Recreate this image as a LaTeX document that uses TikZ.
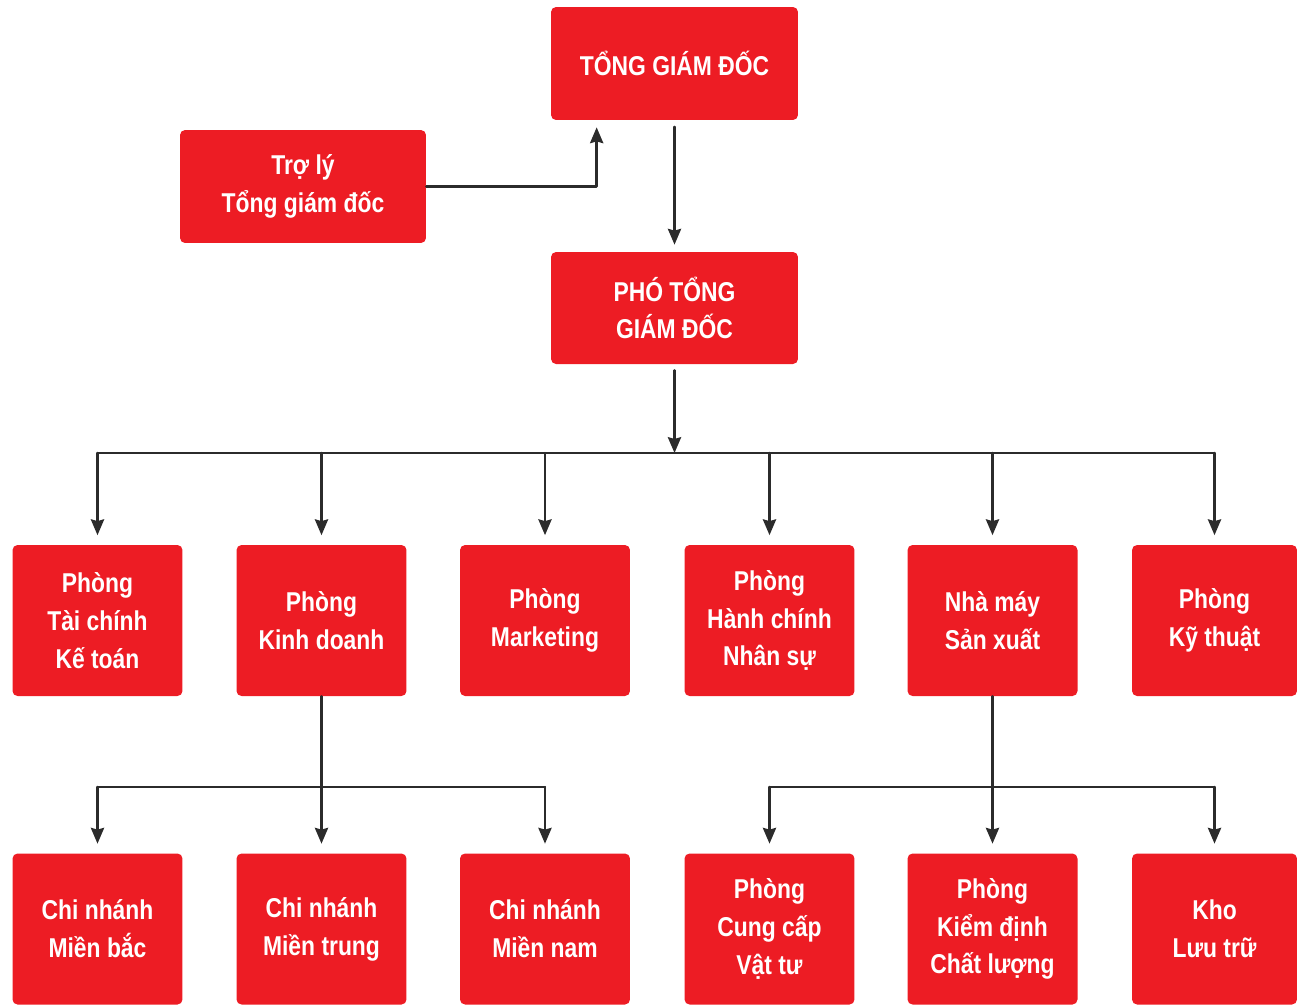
\documentclass[tikz,border=0pt]{standalone}
\usepackage{fontspec}
\newfontfamily\orgfont[FakeStretch=0.84]{Liberation Sans}
\usetikzlibrary{arrows.meta,positioning}
\definecolor{orgred}{HTML}{ED1C24}
\definecolor{linegray}{HTML}{2B2B2B}
\tikzset{
	box/.style={fill=orgred,text=white,rounded corners=0.1cm,align=center,inner sep=0pt,
		font=\orgfont\bfseries\fontsize{15.5}{21.5}\selectfont,
		minimum width=3.4cm,minimum height=3.02cm},
	bigbox/.style={box,minimum width=4.94cm,minimum height=2.26cm},
	link/.style={draw=linegray,line width=1.4pt},
}
\begin{document}
\begin{tikzpicture}[x=0.02cm,y=-0.02cm,line join=round,line cap=round,
	>={Stealth[length=9pt,width=7.5pt,inset=1pt]}]
	\useasboundingbox (0,0) rectangle (1297,1005);
	
	\node[bigbox] (tgd) at (674.5,63.5) {TỔNG GIÁM ĐỐC};
	\node[bigbox,minimum width=4.92cm] (troly) at (303,186.5) {Trợ lý\\Tổng giám đốc};
	\node[bigbox,minimum height=2.24cm] (ptgd) at (674.5,308) {PHÓ TỔNG\\GIÁM ĐỐC};
	
	\node[box] (tckt) at (97.5,620.5) {Phòng\\Tài chính\\Kế toán};
	\node[box] (kd) at (321.5,620.5) {Phòng\\Kinh doanh};
	\node[box] (mkt) at (545,620.5) {Phòng\\Marketing};
	\node[box] (hcns) at (769.5,620.5) {Phòng\\Hành chính\\Nhân sự};
	\node[box] (nm) at (992.5,620.5) {Nhà máy\\Sản xuất};
	\node[box,minimum width=3.3cm] (kt) at (1214.5,620.5) {Phòng\\Kỹ thuật};
	
	\node[box] (cnb) at (97.5,929) {Chi nhánh\\Miền bắc};
	\node[box] (cnt) at (321.5,929) {Chi nhánh\\Miền trung};
	\node[box] (cnn) at (545,929) {Chi nhánh\\Miền nam};
	\node[box] (cc) at (769.5,929) {Phòng\\Cung cấp\\Vật tư};
	\node[box] (kdcl) at (992.5,929) {Phòng\\Kiểm định\\Chất lượng};
	\node[box,minimum width=3.3cm] (kho) at (1214.5,929) {Kho\\Lưu trữ};
	
	\coordinate (bus1) at (674.5,453);
	\coordinate (bus2) at (321.5,787);
	\coordinate (bus3) at (992.5,787);
	
	\draw[link,->,shorten <=0.13cm,shorten >=0.14cm] (tgd) -- (ptgd);
	\draw[link,->,shorten >=0.14cm] (troly.east) -| ([xshift=0.92cm]tgd.south west);
	\draw[link,->,shorten <=0.12cm] (ptgd) -- (bus1);
	\draw[link] (bus1 -| tckt) -- (bus1 -| kt);
	\foreach \n in {tckt,kd,mkt,hcns,nm,kt}
		\draw[link,->,shorten >=0.19cm] (bus1 -| \n) -- (\n);
	
	\draw[link,->,shorten >=0.19cm] (kd) -- (cnt);
	\draw[link] (bus2 -| cnb) -- (bus2 -| cnn);
	\foreach \n in {cnb,cnn}
		\draw[link,->,shorten >=0.19cm] (bus2 -| \n) -- (\n);
	
	\draw[link,->,shorten >=0.19cm] (nm) -- (kdcl);
	\draw[link] (bus3 -| cc) -- (bus3 -| kho);
	\foreach \n in {cc,kho}
		\draw[link,->,shorten >=0.19cm] (bus3 -| \n) -- (\n);
\end{tikzpicture}
\end{document}
